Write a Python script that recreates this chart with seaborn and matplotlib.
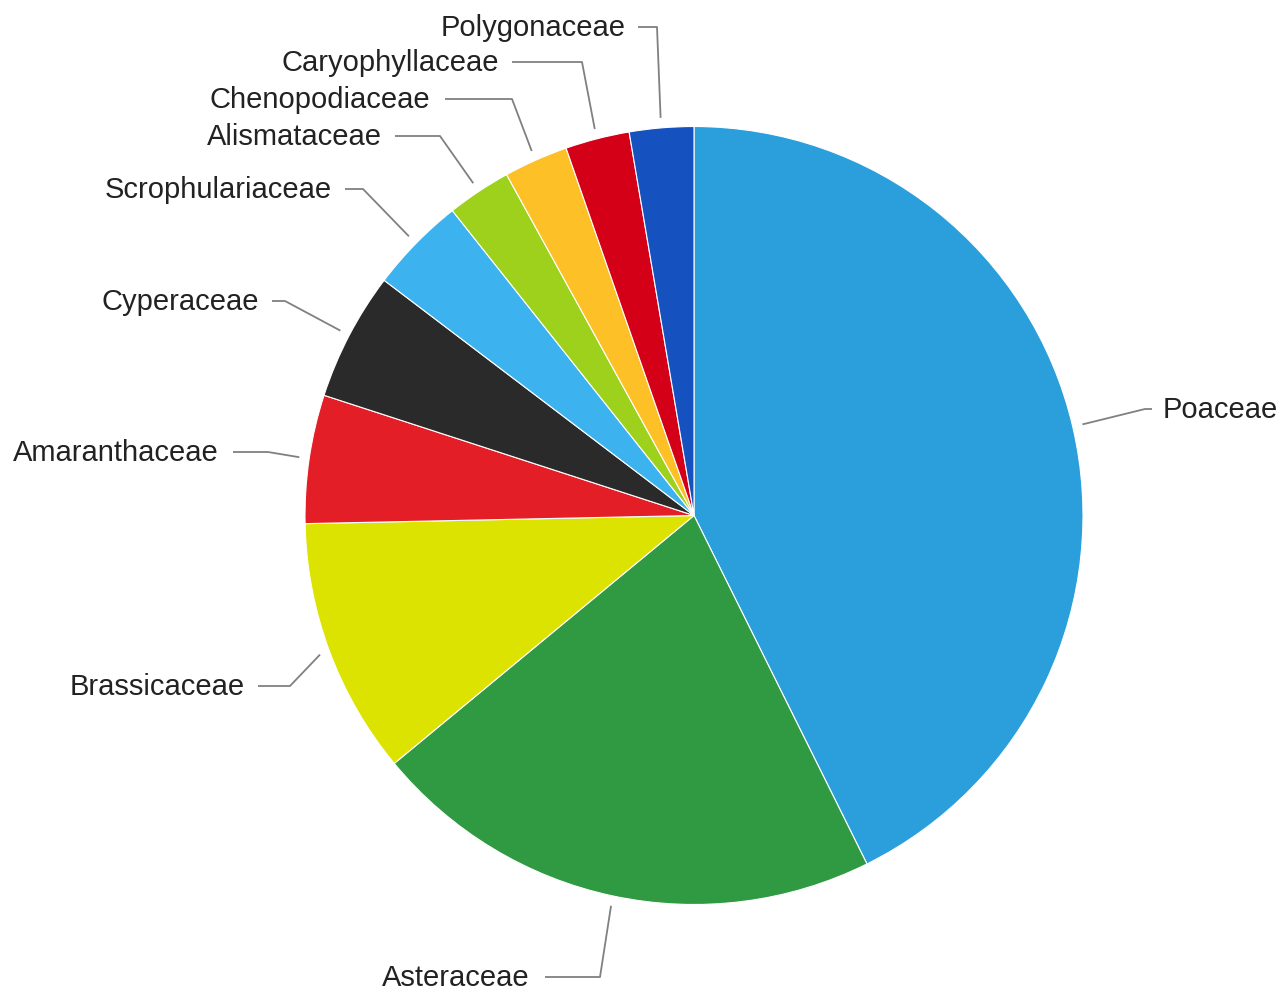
import numpy as np
import matplotlib
matplotlib.use("Agg")
import matplotlib.pyplot as plt
import seaborn as sns

# Plant families and their counts
families = ["Poaceae", "Asteraceae", "Brassicaceae", "Amaranthaceae", "Cyperaceae",
            "Scrophulariaceae", "Alismataceae", "Chenopodiaceae", "Caryophyllaceae",
            "Polygonaceae"]
counts = [32, 16, 8, 4, 4, 3, 2, 2, 2, 2]
colors = ["#2a9fdb", "#2f9a41", "#dde300", "#e41e26", "#2a2a2a",
          "#3cb3ee", "#9dd11c", "#fdc127", "#d40018", "#1652bf"]

sns.set_theme(style="white")
plt.rcParams["font.family"] = ["Liberation Sans", "DejaVu Sans"]

W, H = 1285, 995
fig = plt.figure(figsize=(W / 100, H / 100), dpi=100)
ax = fig.add_axes([0, 0, 1, 1])

cx, cy, R = 694, H - 516.5, 389
wedges, _ = ax.pie(counts, colors=colors, startangle=90, counterclock=False,
                   center=(cx, cy), radius=R,
                   wedgeprops=dict(edgecolor="white", linewidth=0.8))
ax.set_xlim(0, W)
ax.set_ylim(0, H)
ax.set_aspect("equal")
ax.axis("off")

# label layout in pixel coords (top origin): elbow x, label y, line end x, text x, side
layout = {
    "Poaceae":          (1145, 410, 1152, 1163, "left"),
    "Asteraceae":       (600, 978, 545, 530, "right"),
    "Brassicaceae":     (290, 687, 258, 245, "right"),
    "Amaranthaceae":    (268, 453, 233, 219, "right"),
    "Cyperaceae":       (285, 302, 272, 259, "right"),
    "Scrophulariaceae": (363, 190, 345, 332, "right"),
    "Alismataceae":     (440, 137, 395, 382, "right"),
    "Chenopodiaceae":   (512, 100, 445, 430, "right"),
    "Caryophyllaceae":  (582, 63, 512, 499, "right"),
    "Polygonaceae":     (657, 28, 638, 626, "right"),
}

for w, name in zip(wedges, families):
    mid = np.deg2rad((w.theta1 + w.theta2) / 2)
    sx = cx + (R + 10) * np.cos(mid)
    sy = cy + (R + 10) * np.sin(mid)
    ex, ly, hx, tx, side = layout[name]
    ax.plot([sx, ex, hx], [sy, H - ly, H - ly], color="#808080", lw=1.3,
            solid_capstyle="butt", zorder=1)
    ax.text(tx, H - ly, name, ha=side, va="center", fontsize=21, color="#222222")

fig.savefig("out.png", dpi=100, facecolor="white")
